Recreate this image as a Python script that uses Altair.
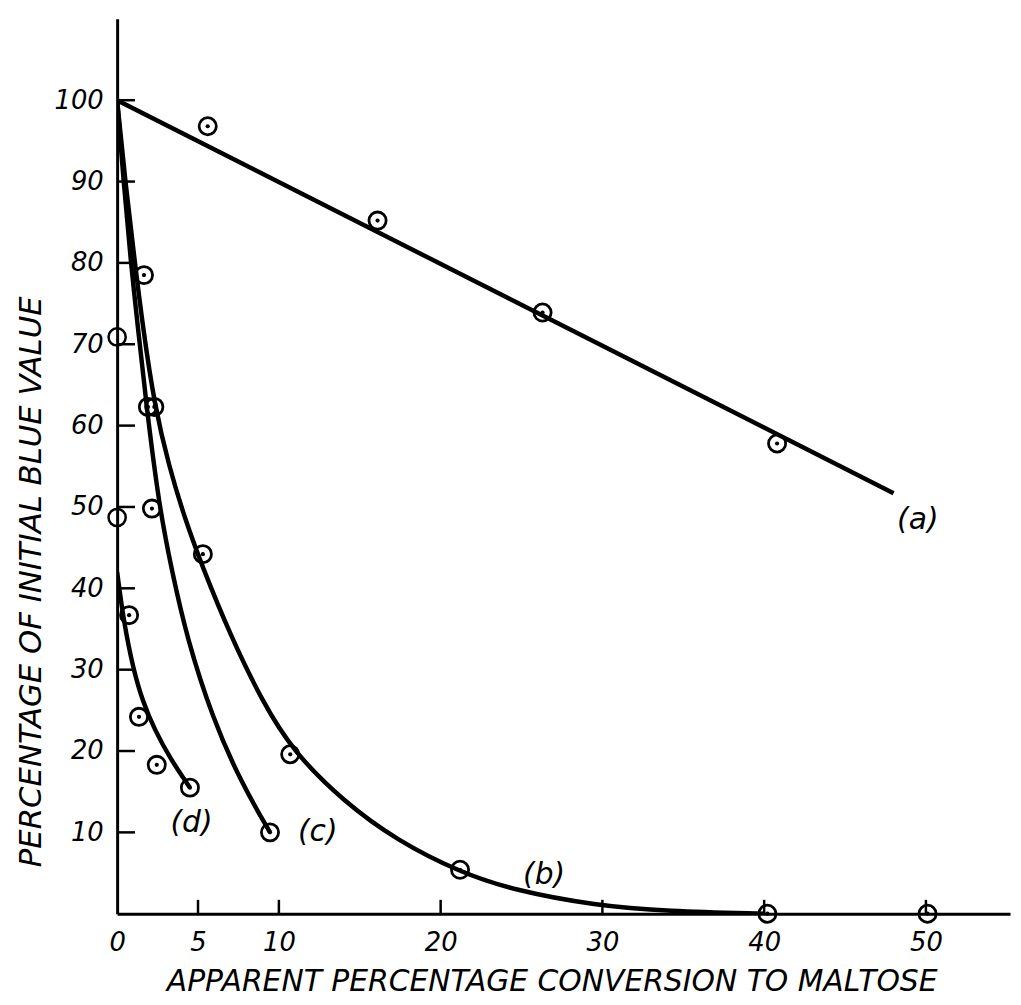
import altair as alt
import pandas as pd

# ---- data ----
# curve (a): straight line and its observations
a_line_x = [0, 48.0]
a_line_y = [100, 51.7]
a_pts_x = [5.6, 16.1, 26.3, 40.8]
a_pts_y = [96.8, 85.2, 73.9, 57.8]

# curve (b)
b_line_x = [0, 0.5, 1.1, 1.6, 2.3, 3.2, 4.2, 5.2, 7.0, 9.0, 10.9, 14.0, 17.3, 21.2, 24.5, 29.6, 34.0, 40.0]
b_line_y = [100, 90, 80, 72, 62.6, 55, 48.5, 43, 34.2, 26.0, 19.9, 13.8, 9.0, 5.1, 2.9, 1.0, 0.3, 0.0]
b_pts_x = [1.66, 2.3, 5.3, 10.7, 21.2, 40.2, 50.1]
b_pts_y = [78.5, 62.3, 44.2, 19.6, 5.4, 0.0, 0.0]

# curve (c)
c_line_x = [0, 0.4, 0.85, 1.25, 1.8, 2.6, 3.4, 4.3, 5.9, 7.7, 9.45]
c_line_y = [100, 90, 80, 72.7, 62.6, 50, 42, 34, 24, 16, 10.0]
c_pts_x = [1.9, 2.15, 9.45]
c_pts_y = [62.3, 49.8, 10.0]

# curve (d)
d_line_x = [0, 0.4, 1.0, 1.6, 2.3, 3.3, 4.5]
d_line_y = [42.0, 36.0, 30.0, 26.0, 22.7, 19.0, 15.5]
d_pts_x = [0.74, 1.35, 2.45, 4.5]
d_pts_y = [36.7, 24.2, 18.3, 15.5]

# open circles without centre dot on the y axis
open_pts_x = [0, 0]
open_pts_y = [70.9, 48.7]

# curve labels
lab_text = ["(a)", "(b)", "(c)", "(d)"]
lab_x = [49.5, 26.4, 12.4, 4.6]
lab_y = [48.4, 4.8, 10.0, 11.2]

x_ticks = [0, 5, 10, 20, 30, 40, 50]
x_inner_ticks = [5, 10, 20, 30, 40, 50]
y_ticks = [10, 20, 30, 40, 50, 60, 70, 80, 90, 100]

X_TITLE = "APPARENT PERCENTAGE CONVERSION TO MALTOSE"
Y_TITLE = "PERCENTAGE OF INITIAL BLUE VALUE"

# ---- tables ----
lines = []
for name, xs, ys in [("a", a_line_x, a_line_y), ("b", b_line_x, b_line_y),
                     ("c", c_line_x, c_line_y), ("d", d_line_x, d_line_y)]:
    for i, (xv, yv) in enumerate(zip(xs, ys)):
        lines.append({"series": name, "x": xv, "y": yv, "i": i})
lines_df = pd.DataFrame(lines)

dots = []
for xs, ys in [(a_pts_x, a_pts_y), (b_pts_x, b_pts_y), (c_pts_x, c_pts_y), (d_pts_x, d_pts_y)]:
    for xv, yv in zip(xs, ys):
        dots.append({"x": xv, "y": yv})
dots_df = pd.DataFrame(dots)
open_df = pd.DataFrame({"x": open_pts_x, "y": open_pts_y})
lab_df = pd.DataFrame({"t": lab_text, "x": lab_x, "y": lab_y})
ytick_df = pd.DataFrame({"v": y_ticks})
xtick_df = pd.DataFrame({"v": x_inner_ticks})

W, H = 900, 902
FONT = "DejaVu Sans"

xscale = alt.Scale(domain=[0, 55.2], nice=False, zero=False)
yscale = alt.Scale(domain=[0, 110], nice=False, zero=False)

xaxis = alt.Axis(values=x_ticks, ticks=False, grid=False, domainColor="black", domainWidth=3,
                 labelFont=FONT, labelFontStyle="italic", labelFontSize=26, labelColor="black",
                 labelPadding=16, labelFlush=False,
                 title=X_TITLE, titleFont=FONT, titleFontStyle="italic", titleFontWeight="normal",
                 titleFontSize=30, titleColor="black", titleX=438, titleY=68,
                 titleAlign="center", titleBaseline="middle")
yaxis = alt.Axis(values=y_ticks, ticks=False, grid=False, domainColor="black", domainWidth=3,
                 labelFont=FONT, labelFontStyle="italic", labelFontSize=26, labelColor="black",
                 labelPadding=14, labelFlush=False,
                 title=Y_TITLE, titleFont=FONT, titleFontStyle="italic", titleFontWeight="normal",
                 titleFontSize=31, titleColor="black", titleX=-86, titleY=567, titleAngle=-90,
                 titleAlign="center", titleBaseline="middle")

base_x = alt.X("x:Q", scale=xscale, axis=xaxis)
base_y = alt.Y("y:Q", scale=yscale, axis=yaxis)

line_layer = alt.Chart(lines_df).mark_line(
    interpolate="basis", color="black", strokeWidth=4.5, clip=True
).encode(x=base_x, y=base_y, detail="series:N", order="i:Q")

ring_layer = alt.Chart(dots_df).mark_point(
    shape="circle", filled=False, color="black", size=300, strokeWidth=2.8, opacity=1
).encode(x=alt.X("x:Q", scale=xscale), y=alt.Y("y:Q", scale=yscale))

dot_layer = alt.Chart(dots_df).mark_circle(color="black", size=18, opacity=1).encode(
    x=alt.X("x:Q", scale=xscale), y=alt.Y("y:Q", scale=yscale))

open_layer = alt.Chart(open_df).mark_point(
    shape="circle", filled=False, color="black", size=300, strokeWidth=2.5, opacity=1
).encode(x=alt.X("x:Q", scale=xscale), y=alt.Y("y:Q", scale=yscale))

ytick_layer = alt.Chart(ytick_df).mark_rule(color="black", strokeWidth=2.5).encode(
    y=alt.Y("v:Q", scale=yscale), x=alt.value(0), x2=alt.value(18))

xtick_layer = alt.Chart(xtick_df).mark_rule(color="black", strokeWidth=2.5).encode(
    x=alt.X("v:Q", scale=xscale), y=alt.value(H), y2=alt.value(H - 14))

text_layer = alt.Chart(lab_df).mark_text(
    font=FONT, fontStyle="italic", fontSize=30, color="black"
).encode(x=alt.X("x:Q", scale=xscale), y=alt.Y("y:Q", scale=yscale), text="t:N")

chart = alt.layer(
    line_layer, ytick_layer, xtick_layer, ring_layer, dot_layer, open_layer, text_layer
).properties(
    width=W, height=H,
    autosize=alt.AutoSizeParams(type="none"),
    padding={"left": 110, "top": 7, "right": 3, "bottom": 80},
    background="white",
).configure_view(stroke=None)

chart.save("out.html", embed_options={"renderer": "svg", "actions": False})
